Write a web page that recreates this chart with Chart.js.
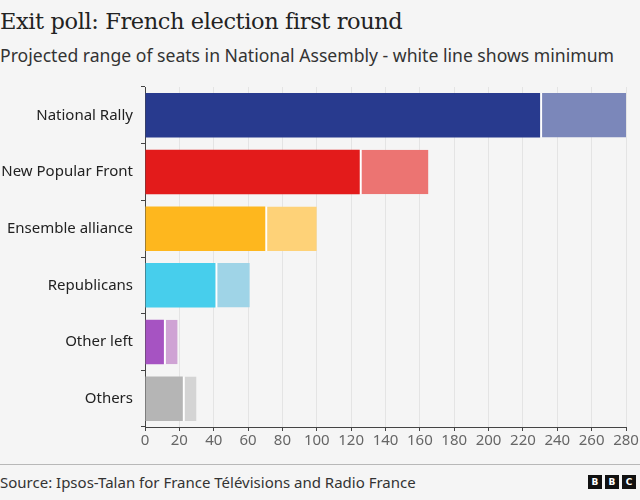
<!DOCTYPE html>
<html>
<head>
<meta charset="utf-8">
<script src="https://cdn.jsdelivr.net/npm/chart.js@4.4.1/dist/chart.umd.min.js"></script>
<style>
  html, body { margin: 0; padding: 0; background: #f5f5f5; }
  body { width: 640px; height: 500px; position: relative; overflow: hidden; font-family: "Noto Sans", sans-serif; }
  #title { position: absolute; left: 0; top: 8px; font-family: "DejaVu Serif", serif; font-size: 22.5px; color: #222; white-space: nowrap; letter-spacing: -0.4px; }
  #subtitle { position: absolute; left: 0; top: 43px; font-size: 17.6px; color: #333; white-space: nowrap; }
  #chartbox { position: absolute; left: 0; top: 70px; width: 640px; height: 390px; }
  #rule { position: absolute; left: 0; top: 464px; width: 640px; height: 1px; background: #b8b8b8; }
  #source { position: absolute; left: 0; top: 472px; font-size: 15px; color: #333; white-space: nowrap; }
  #logo { position: absolute; left: 588px; top: 475px; display: flex; gap: 3px; }
  #logo span { width: 14px; height: 14px; background: #111; color: #fff; font: bold 9px "DejaVu Sans", sans-serif; display: flex; align-items: center; justify-content: center; }
</style>
</head>
<body>
<div id="title">Exit poll: French election first round</div>
<div id="subtitle">Projected range of seats in National Assembly - white line shows minimum</div>
<div id="chartbox"><canvas id="c"></canvas></div>
<div id="rule"></div>
<div id="source">Source: Ipsos-Talan for France Télévisions and Radio France</div>
<div id="logo"><span>B</span><span>B</span><span>C</span></div>
<script>
const categories = ["National Rally", "New Popular Front", "Ensemble alliance", "Republicans", "Other left", "Others"];
const minimumSeats = [230, 125, 70, 41, 11, 22];
const maximumSeats = [280, 165, 100, 61, 19, 30];
const xTicks = [0, 20, 40, 60, 80, 100, 120, 140, 160, 180, 200, 220, 240, 260, 280];
const darkColors = ["#283a8e", "#e31b1b", "#feb71e", "#47ceec", "#a653c2", "#b5b5b5"];
const lightColors = ["#7b87ba", "#ec7472", "#fed278", "#9fd4e7", "#cfa3d4", "#d4d4d4"];

const rangeSeats = maximumSeats.map((m, i) => m - minimumSeats[i]);

new Chart(document.getElementById('c'), {
  type: 'bar',
  data: {
    labels: categories,
    datasets: [
      { label: 'Minimum', data: minimumSeats, backgroundColor: darkColors, borderWidth: 0,
        barPercentage: 0.785, categoryPercentage: 1 },
      { label: 'Range', data: rangeSeats, backgroundColor: lightColors, borderColor: '#ffffff',
        borderWidth: { left: 2, right: 0, top: 0, bottom: 0 }, borderSkipped: false,
        barPercentage: 0.785, categoryPercentage: 1 }
    ]
  },
  options: {
    indexAxis: 'y',
    responsive: true,
    maintainAspectRatio: false,
    animation: false,
    layout: { padding: { top: 13.5, right: 14, left: 0, bottom: 0 } },
    plugins: { legend: { display: false }, tooltip: { enabled: false }, title: { display: false } },
    scales: {
      x: {
        stacked: true, min: 0, max: 280,
        afterBuildTicks: (s) => { s.ticks = xTicks.map(v => ({ value: v })); },
        afterFit: (s) => { s.height = 33; },
        grid: { color: '#e4e4e4', tickColor: '#444', tickLength: 4, drawTicks: true },
        border: { color: '#444', width: 1 },
        ticks: { color: '#666', font: { family: 'Noto Sans', size: 15 }, padding: 1, maxRotation: 0, autoSkip: false }
      },
      y: {
        stacked: true,
        afterFit: (s) => { s.width = 145; },
        grid: { drawOnChartArea: false, tickColor: '#444', tickLength: 4 },
        border: { color: '#444', width: 1 },
        ticks: { color: '#222', font: { family: 'Noto Sans', size: 15 }, padding: 8 }
      }
    }
  }
});
</script>
</body>
</html>
